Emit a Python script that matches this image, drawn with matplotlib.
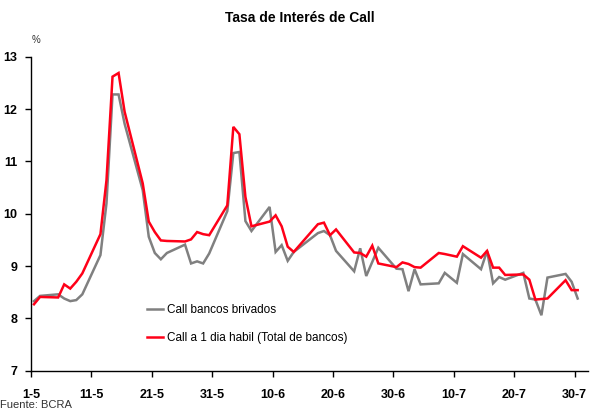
import matplotlib.pyplot as plt
from matplotlib.lines import Line2D

# dias habiles, contados desde el 1-5
dias = [0, 1, 4, 5, 6, 7, 8, 11, 12, 13, 14, 15, 18, 19, 20, 21, 22,
        25, 26, 27, 28, 29, 32, 33, 34, 35, 36, 39, 40, 41, 42, 43,
        47, 48, 49, 50, 53, 54, 55, 56, 57, 60, 61, 62, 63, 64,
        67, 68, 70, 71, 74, 75, 76, 77, 78, 81, 82, 83, 84, 85, 88, 89, 90]

call_total = [8.27, 8.41, 8.40, 8.65, 8.57, 8.70, 8.86, 9.61, 10.64, 12.62, 12.69, 11.95,
              10.58, 9.85, 9.65, 9.49, 9.48,
              9.47, 9.51, 9.65, 9.61, 9.59, 10.16, 11.66, 11.52, 10.32, 9.76,
              9.85, 9.97, 9.76, 9.37, 9.27,
              9.80, 9.83, 9.59, 9.70, 9.26, 9.25, 9.18, 9.39, 9.05,
              8.98, 9.07, 9.04, 8.98, 8.97,
              9.25, 9.23, 9.18, 9.38, 9.16, 9.29, 8.97, 8.97, 8.83,
              8.84, 8.74, 8.36, 8.37, 8.38, 8.73, 8.54, 8.54]

call_privados = [8.33, 8.43, 8.46, 8.38, 8.33, 8.35, 8.46, 9.21, 10.2, 12.28, 12.28, 11.72,
                 10.45, 9.56, 9.25, 9.13, 9.25,
                 9.41, 9.05, 9.09, 9.05, 9.24, 10.05, 11.16, 11.18, 9.86, 9.67,
                 10.13, 9.27, 9.40, 9.10, 9.27,
                 9.63, 9.67, 9.59, 9.29, 8.90, 9.34, 8.81, 9.08, 9.35,
                 8.95, 8.94, 8.52, 8.94, 8.65,
                 8.67, 8.87, 8.68, 9.23, 8.94, 9.29, 8.67, 8.79, 8.74,
                 8.87, 8.38, 8.36, 8.06, 8.78, 8.85, 8.70, 8.38]

tick_dias = [0, 10, 20, 30, 40, 50, 60, 70, 80, 90]
tick_labels = ["1-5", "11-5", "21-5", "31-5", "10-6", "20-6", "30-6", "10-7", "20-7", "30-7"]

plt.rcParams['font.family'] = ['Liberation Sans', 'DejaVu Sans']

fig = plt.figure(figsize=(5.9, 4.12), dpi=100)
ax = fig.add_axes([0.0525, 0.1002, 0.944, 0.762])

x = [d + 0.5 for d in dias]  # cada dia centrado en su casilla
ax.plot(x, call_privados, color="#808080", lw=1.8, solid_joinstyle="miter")
ax.plot(x, call_total, color="#FF0018", lw=1.8, solid_joinstyle="miter")

ax.set_xlim(0, 92.2)
ax.set_ylim(7, 13)
ax.set_yticks(range(7, 14))
ax.set_xticks(tick_dias)
ax.set_xticklabels(tick_labels)
for s in ["top", "right"]:
    ax.spines[s].set_visible(False)
for s in ["left", "bottom"]:
    ax.spines[s].set_linewidth(1.0)
ax.tick_params(axis="y", direction="out", length=4, width=1, pad=6, labelsize=9)
ax.tick_params(axis="x", direction="out", length=4, width=1, pad=9, labelsize=9)
for lab in ax.get_xticklabels() + ax.get_yticklabels():
    lab.set_fontweight("bold")

fig.text(0.508, 0.957, "Tasa de Interés de Call", ha="center", va="center",
         fontsize=10, fontweight="bold")
fig.text(0.053, 0.902, "%", ha="left", va="center", fontsize=7, color="#333333")
fig.text(0.0, 0.004, "Fuente: BCRA", ha="left", va="bottom", fontsize=8, color="#333333")

handles = [Line2D([], [], color="#808080", lw=1.8),
           Line2D([], [], color="#FF0018", lw=1.8)]
ax.legend(handles, ["Call bancos brivados", "Call a 1 dia habil (Total de bancos)"],
          loc="lower left", bbox_to_anchor=(0.19, 0.05), frameon=False,
          fontsize=8.5, handlelength=1.3, handletextpad=0.4, labelspacing=1.4)

fig.savefig("out.png", dpi=100)
